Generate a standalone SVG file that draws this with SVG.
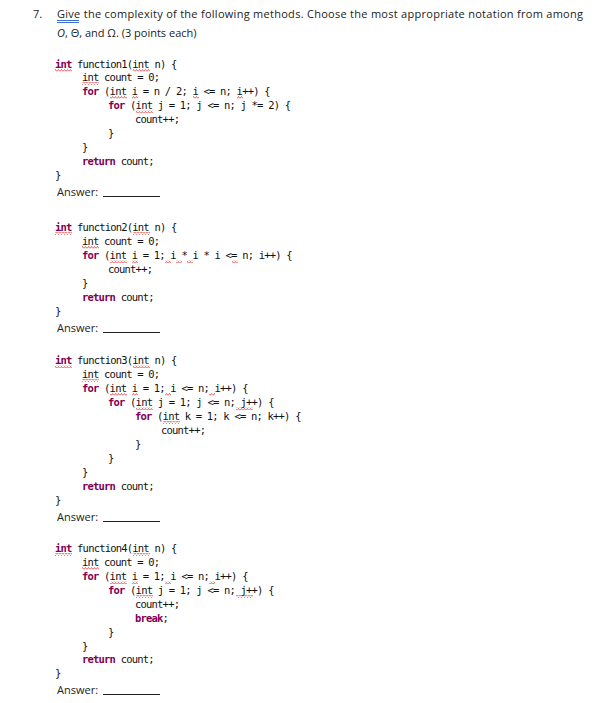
<svg xmlns="http://www.w3.org/2000/svg" width="609" height="703" viewBox="0 0 609 703">
<defs>
<pattern id="wv" patternUnits="userSpaceOnUse" width="3" height="3"><path d="M0,2.5 L1.5,0.5 L3,2.5" fill="none" stroke="#e02020" stroke-width="0.7"/></pattern>
<style>
.t{font-family:"Open Sans","Liberation Sans",sans-serif;font-size:11px;fill:#222}
.c{font-family:"DejaVu Sans Mono","Liberation Mono",monospace;font-size:10.5px;letter-spacing:-0.8px;fill:#111;white-space:pre}
.k{fill:#7f0055;font-weight:bold}
.s{fill:url(#wv)}
</style>
</defs>
<rect width="609" height="703" fill="#fff"/>
<g id="title">
<text class="t" x="33" y="18">7.</text>
<text class="t" x="57" y="18" textLength="526">Give the complexity of the following methods.  Choose the most appropriate notation from among</text>
<rect x="57" y="20" width="22" height="1" fill="#3b6fd8"/><rect x="57" y="22" width="22" height="1" fill="#3b6fd8"/>
<text class="t" x="57" y="37"><tspan font-style="italic">O</tspan>, Θ, and Ω. (3 points each)</text>
</g>
<g id="function1">
<text class="c" x="55" y="68" xml:space="preserve"><tspan class="k">int</tspan> function1(int n) {</text>
<text class="c" x="82" y="81" xml:space="preserve">int count = 0;</text>
<text class="c" x="82" y="95" xml:space="preserve"><tspan class="k">for</tspan> (int i = n / 2; i &lt;= n; i++) {</text>
<text class="c" x="108" y="109" xml:space="preserve"><tspan class="k">for</tspan> (int j = 1; j &lt;= n; j *= 2) {</text>
<text class="c" x="135" y="123">count++;</text>
<text class="c" x="108" y="137">}</text>
<text class="c" x="82" y="151">}</text>
<text class="c" x="82" y="165"><tspan class="k">return</tspan> count;</text>
<text class="c" x="55" y="179">}</text>
<text class="t" x="57" y="196">Answer:</text><rect x="103" y="196" width="57" height="1" fill="#222"/>
<rect class="s" x="55" y="69" width="17" height="3"/><rect class="s" x="133" y="69" width="17" height="3"/>
<rect class="s" x="82" y="82" width="17" height="3"/><rect class="s" x="110" y="96" width="17" height="3"/>
<rect class="s" x="132" y="96" width="6" height="3"/><rect class="s" x="193" y="96" width="6" height="3"/><rect class="s" x="237" y="96" width="6" height="3"/>
<rect class="s" x="136" y="110" width="17" height="3"/>
</g>
<g id="function2">
<text class="c" x="55" y="231" xml:space="preserve"><tspan class="k">int</tspan> function2(int n) {</text>
<text class="c" x="82" y="245" xml:space="preserve">int count = 0;</text>
<text class="c" x="82" y="259" xml:space="preserve"><tspan class="k">for</tspan> (int i = 1; i * i * i &lt;= n; i++) {</text>
<text class="c" x="108" y="273">count++;</text>
<text class="c" x="82" y="287">}</text>
<text class="c" x="82" y="301"><tspan class="k">return</tspan> count;</text>
<text class="c" x="55" y="315">}</text>
<text class="t" x="57" y="332">Answer:</text><rect x="103" y="332" width="57" height="1" fill="#222"/>
<rect class="s" x="55" y="232" width="17" height="3"/><rect class="s" x="133" y="232" width="17" height="3"/>
<rect class="s" x="82" y="246" width="17" height="3"/><rect class="s" x="110" y="260" width="17" height="3"/>
<rect class="s" x="132" y="260" width="6" height="3"/><rect class="s" x="165" y="260" width="6" height="3"/><rect class="s" x="176" y="260" width="6" height="3"/><rect class="s" x="187" y="260" width="6" height="3"/><rect class="s" x="232" y="260" width="6" height="3"/>
</g>
<g id="function3">
<text class="c" x="55" y="364" xml:space="preserve"><tspan class="k">int</tspan> function3(int n) {</text>
<text class="c" x="82" y="378" xml:space="preserve">int count = 0;</text>
<text class="c" x="82" y="392" xml:space="preserve"><tspan class="k">for</tspan> (int i = 1; i &lt;= n; i++) {</text>
<text class="c" x="108" y="406" xml:space="preserve"><tspan class="k">for</tspan> (int j = 1; j &lt;= n; j++) {</text>
<text class="c" x="135" y="420" xml:space="preserve"><tspan class="k">for</tspan> (int k = 1; k &lt;= n; k++) {</text>
<text class="c" x="161" y="434">count++;</text>
<text class="c" x="135" y="448">}</text>
<text class="c" x="108" y="462">}</text>
<text class="c" x="82" y="476">}</text>
<text class="c" x="82" y="490"><tspan class="k">return</tspan> count;</text>
<text class="c" x="55" y="504">}</text>
<text class="t" x="57" y="521">Answer:</text><rect x="103" y="521" width="57" height="1" fill="#222"/>
<rect class="s" x="55" y="365" width="17" height="3"/><rect class="s" x="133" y="365" width="17" height="3"/>
<rect class="s" x="82" y="379" width="17" height="3"/><rect class="s" x="110" y="393" width="17" height="3"/>
<rect class="s" x="132" y="393" width="6" height="3"/><rect class="s" x="165" y="393" width="6" height="3"/><rect class="s" x="209" y="393" width="6" height="3"/>
<rect class="s" x="136" y="407" width="17" height="3"/><rect class="s" x="236" y="407" width="17" height="3"/>
<rect class="s" x="163" y="421" width="17" height="3"/>
</g>
<g id="function4">
<text class="c" x="55" y="552" xml:space="preserve"><tspan class="k">int</tspan> function4(int n) {</text>
<text class="c" x="82" y="566" xml:space="preserve">int count = 0;</text>
<text class="c" x="82" y="580" xml:space="preserve"><tspan class="k">for</tspan> (int i = 1; i &lt;= n; i++) {</text>
<text class="c" x="108" y="594" xml:space="preserve"><tspan class="k">for</tspan> (int j = 1; j &lt;= n; j++) {</text>
<text class="c" x="135" y="608">count++;</text>
<text class="c" x="135" y="622"><tspan class="k">break</tspan>;</text>
<text class="c" x="108" y="636">}</text>
<text class="c" x="82" y="650">}</text>
<text class="c" x="82" y="663"><tspan class="k">return</tspan> count;</text>
<text class="c" x="55" y="677">}</text>
<text class="t" x="57" y="694">Answer:</text><rect x="103" y="694" width="57" height="1" fill="#222"/>
<rect class="s" x="55" y="553" width="17" height="3"/><rect class="s" x="133" y="553" width="17" height="3"/>
<rect class="s" x="82" y="567" width="17" height="3"/><rect class="s" x="110" y="581" width="17" height="3"/>
<rect class="s" x="132" y="581" width="6" height="3"/><rect class="s" x="165" y="581" width="6" height="3"/><rect class="s" x="209" y="581" width="6" height="3"/>
<rect class="s" x="136" y="595" width="17" height="3"/><rect class="s" x="236" y="595" width="17" height="3"/>
</g>
</svg>
